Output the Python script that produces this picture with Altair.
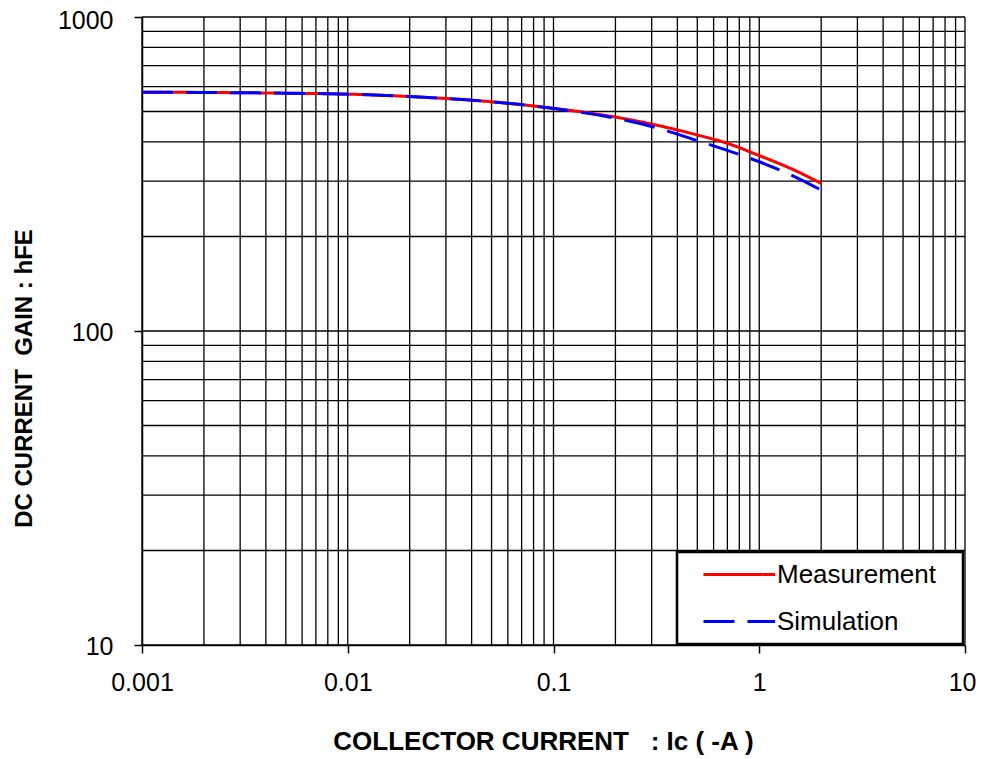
import altair as alt
import pandas as pd

# ---- data ----
ic = [0.001, 0.002, 0.005, 0.01, 0.02, 0.05, 0.1, 0.2, 0.3, 0.5, 0.7, 1.0, 1.5, 2.0]
measurement = [576, 575, 572, 568, 558, 537, 512, 480, 456, 421, 396, 362, 324, 295]
simulation = [576, 575, 572, 568, 558, 537, 511, 476, 448, 404, 376, 346, 309, 281]
series_names = ["Measurement", "Simulation"]

x_decades = [0.001, 0.01, 0.1, 1, 10]
y_decades = [10, 100, 1000]
multipliers = [1, 2, 3, 4, 5, 6, 7, 8, 9]

x_grid = [m * d for d in x_decades[:-1] for m in multipliers] + [x_decades[-1]]
y_grid = [m * d for d in y_decades[:-1] for m in multipliers] + [y_decades[-1]]

rows = []
for x, a, b in zip(ic, measurement, simulation):
    rows.append({"Ic": x, "hFE": a, "series": series_names[0]})
    rows.append({"Ic": x, "hFE": b, "series": series_names[1]})
df = pd.DataFrame(rows)

FONT = "Liberation Sans"
W, H = 823, 628

xscale = alt.Scale(type="log", domain=[0.001, 10], nice=False)
yscale = alt.Scale(type="log", domain=[10, 1000], nice=False)

last_x = "datum.value >= 10"
top_y = "datum.value >= 1000"
xaxis = alt.Axis(
    values=x_decades, format="~g", grid=False, tickSize=8, tickColor="black",
    tickWidth=1.5, domainColor="black", domainWidth=1.5,
    labelFont=FONT, labelFontSize=25, labelColor="black", labelPadding=17,
    labelFlush=False, labelOverlap=False,
    labelAlign={"condition": {"test": last_x, "value": "right"}, "value": "center"},
    labelOffset={"condition": {"test": last_x, "value": 11}, "value": 0},
    title="COLLECTOR CURRENT\u00a0\u00a0\u00a0: Ic ( -A )",
    titleFont=FONT, titleFontSize=26, titleFontWeight="bold", titleColor="black",
    titleX=401, titleY=96, titleAlign="center", titleBaseline="middle",
)
yaxis = alt.Axis(
    values=y_decades, format="~g", grid=False, tickSize=8, tickColor="black",
    tickWidth=1.5, domainColor="black", domainWidth=1.5,
    labelFont=FONT, labelFontSize=25, labelColor="black", labelPadding=21,
    labelOffset={"condition": {"test": top_y, "value": 3.5}, "value": 1.5},
    labelFlush=False, labelOverlap=False,
    title="DC CURRENT\u00a0\u00a0GAIN : hFE",
    titleFont=FONT, titleFontSize=24, titleFontWeight="bold", titleColor="black",
    titleX=-118, titleY=361, titleAlign="center", titleBaseline="middle", titleAngle=-90,
)

xgrid = alt.Chart(pd.DataFrame({"Ic": x_grid})).mark_rule(color="black", strokeWidth=1.3).encode(
    x=alt.X("Ic:Q", scale=xscale, axis=xaxis)
)
ygrid = alt.Chart(pd.DataFrame({"hFE": y_grid})).mark_rule(color="black", strokeWidth=1.3).encode(
    y=alt.Y("hFE:Q", scale=yscale, axis=yaxis)
)

# symbol path: a 72px stroke, plus a trailing move-to that widens the legend box
legend = alt.Legend(
    orient="none", legendX=535, legendY=535, title=None,
    symbolType="M0.33,0H6.3M20.7,0", symbolSize=576, symbolStrokeWidth=3,
    labelFont=FONT, labelFontSize=26, labelColor="black", labelOffset=64,
    padding=9, rowPadding=20, fillColor="white", strokeColor="black",
)

lines = alt.Chart(df).mark_line(strokeWidth=3, interpolate="monotone").encode(
    x=alt.X("Ic:Q", scale=xscale, axis=xaxis),
    y=alt.Y("hFE:Q", scale=yscale, axis=yaxis),
    color=alt.Color(
        "series:N",
        scale=alt.Scale(domain=series_names, range=["#ff0000", "#0000ff"]),
        legend=legend,
    ),
    strokeDash=alt.StrokeDash(
        "series:N",
        scale=alt.Scale(domain=series_names, range=[[1, 0], [31, 13]]),
        legend=legend,
    ),
)

chart = (
    alt.layer(xgrid, ygrid, lines)
    .properties(
        width=W, height=H,
        autosize=alt.AutoSizeParams(type="none"),
        padding={"left": 134, "top": 9, "right": 11, "bottom": 110},
    )
    .configure_view(stroke=None)
    .configure_legend(strokeWidth=2.5, cornerRadius=0)
)

chart.save("out.html", embed_options={"renderer": "svg", "actions": False})
